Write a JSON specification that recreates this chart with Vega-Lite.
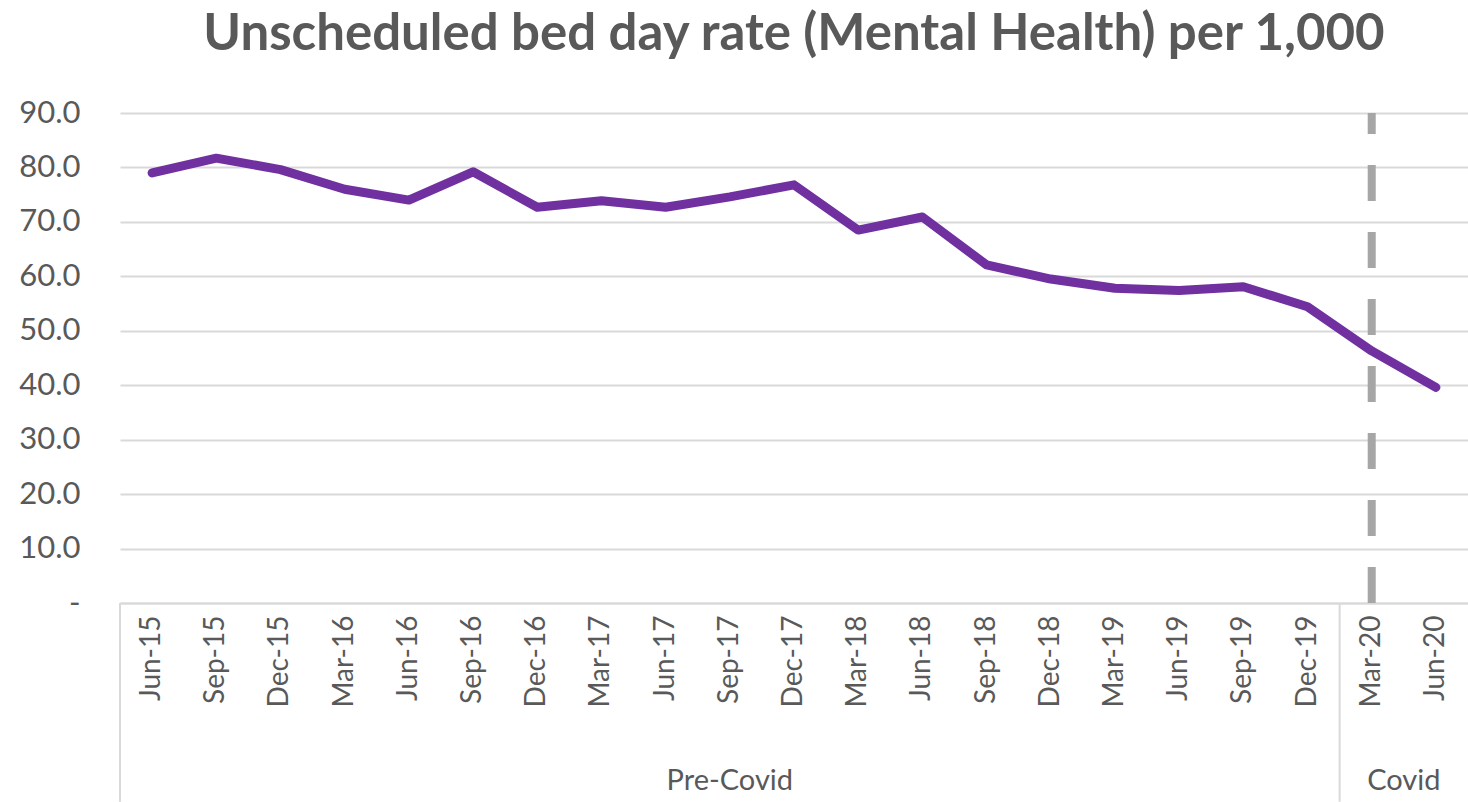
{
  "$schema": "https://vega.github.io/schema/vega-lite/v6.json",
  "width": 1348,
  "height": 490,
  "autosize": {"type": "none"},
  "padding": {"left": 120, "top": 113, "right": 0, "bottom": 199},
  "background": "white",
  "config": {"view": {"stroke": null}, "font": "Lato"},
  "title": {
    "text": "Unscheduled bed day rate (Mental Health) per 1,000",
    "anchor": "middle",
    "font": "Lato",
    "fontSize": 51,
    "fontWeight": "bold",
    "color": "#595959",
    "offset": 36
  },
  "datasets": {
    "series": [
      {"period": "Jun-15", "rate": 79.0},
      {"period": "Sep-15", "rate": 81.7},
      {"period": "Dec-15", "rate": 79.6},
      {"period": "Mar-16", "rate": 76.0},
      {"period": "Jun-16", "rate": 74.0},
      {"period": "Sep-16", "rate": 79.2},
      {"period": "Dec-16", "rate": 72.7},
      {"period": "Mar-17", "rate": 73.9},
      {"period": "Jun-17", "rate": 72.7},
      {"period": "Sep-17", "rate": 74.6},
      {"period": "Dec-17", "rate": 76.8},
      {"period": "Mar-18", "rate": 68.5},
      {"period": "Jun-18", "rate": 70.9},
      {"period": "Sep-18", "rate": 62.1},
      {"period": "Dec-18", "rate": 59.5},
      {"period": "Mar-19", "rate": 57.8},
      {"period": "Jun-19", "rate": 57.4},
      {"period": "Sep-19", "rate": 58.1},
      {"period": "Dec-19", "rate": 54.4},
      {"period": "Mar-20", "rate": 46.3},
      {"period": "Jun-20", "rate": 39.6}
    ],
    "groups": [
      {"group": "Pre-Covid", "first": "Jun-15", "middle": "Sep-17"},
      {"group": "Covid", "first": "Mar-20", "middle": "Mar-20"}
    ],
    "marker": [{"period": "Mar-20"}]
  },
  "layer": [
    {
      "data": {"name": "series"},
      "mark": {"type": "line", "color": "#7030A0", "strokeWidth": 9, "strokeCap": "round", "strokeJoin": "round"},
      "encoding": {
        "x": {
          "field": "period",
          "type": "ordinal",
          "sort": null,
          "bandPosition": 0.5,
          "scale": {
            "type": "band",
            "paddingInner": 0,
            "paddingOuter": 0,
            "domain": ["Jun-15","Sep-15","Dec-15","Mar-16","Jun-16","Sep-16","Dec-16","Mar-17","Jun-17","Sep-17","Dec-17","Mar-18","Jun-18","Sep-18","Dec-18","Mar-19","Jun-19","Sep-19","Dec-19","Mar-20","Jun-20"]
          },
          "axis": {
            "title": null,
            "labelAngle": -90,
            "labelFont": "Lato",
            "labelFontSize": 28,
            "labelColor": "#595959",
            "labelPadding": 12,
            "ticks": false,
            "domain": true,
            "domainColor": "#d9d9d9",
            "domainWidth": 2,
            "grid": false
          }
        },
        "y": {
          "field": "rate",
          "type": "quantitative",
          "scale": {"domain": [0, 90], "nice": false, "zero": true},
          "axis": {
            "title": null,
            "values": [0, 10, 20, 30, 40, 50, 60, 70, 80, 90],
            "labelExpr": "datum.value === 0 ? '-' : format(datum.value, '.1f')",
            "labelFont": "Lato",
            "labelFontSize": 31,
            "labelColor": "#595959",
            "labelPadding": 40,
            "ticks": false,
            "domain": false,
            "grid": true,
            "gridColor": "#d9d9d9",
            "gridWidth": 2,
            "encode": {"labels": {"update": {"dx": {"signal": "datum.value === 0 ? -13 : 0"}}}}
          }
        }
      }
    },
    {
      "data": {"name": "marker"},
      "mark": {"type": "rule", "color": "#a6a6a6", "strokeWidth": 8, "strokeDash": [36, 31], "strokeCap": "butt"},
      "encoding": {
        "x": {"field": "period", "type": "ordinal", "bandPosition": 0.5, "axis": {"title": null}},
        "y": {"datum": 0, "type": "quantitative"},
        "y2": {"datum": 90}
      }
    },
    {
      "data": {"name": "groups"},
      "mark": {"type": "rule", "color": "#d9d9d9", "strokeWidth": 2},
      "encoding": {
        "x": {"field": "first", "type": "ordinal", "bandPosition": 0, "axis": {"title": null}},
        "y": {"datum": 0, "type": "quantitative"},
        "y2": {"datum": -36.5}
      }
    },
    {
      "data": {"name": "groups"},
      "transform": [{"filter": "datum.group === 'Pre-Covid'"}],
      "mark": {"type": "text", "font": "Lato", "fontSize": 29, "color": "#595959", "align": "center", "baseline": "middle"},
      "encoding": {
        "x": {"field": "middle", "type": "ordinal", "bandPosition": 0.5, "axis": {"title": null}},
        "y": {"datum": -32.7, "type": "quantitative"},
        "text": {"field": "group"}
      }
    },
    {
      "data": {"name": "groups"},
      "transform": [{"filter": "datum.group === 'Covid'"}],
      "mark": {"type": "text", "font": "Lato", "fontSize": 29, "color": "#595959", "align": "center", "baseline": "middle"},
      "encoding": {
        "x": {"field": "middle", "type": "ordinal", "bandPosition": 1, "axis": {"title": null}},
        "y": {"datum": -32.7, "type": "quantitative"},
        "text": {"field": "group"}
      }
    }
  ]
}
